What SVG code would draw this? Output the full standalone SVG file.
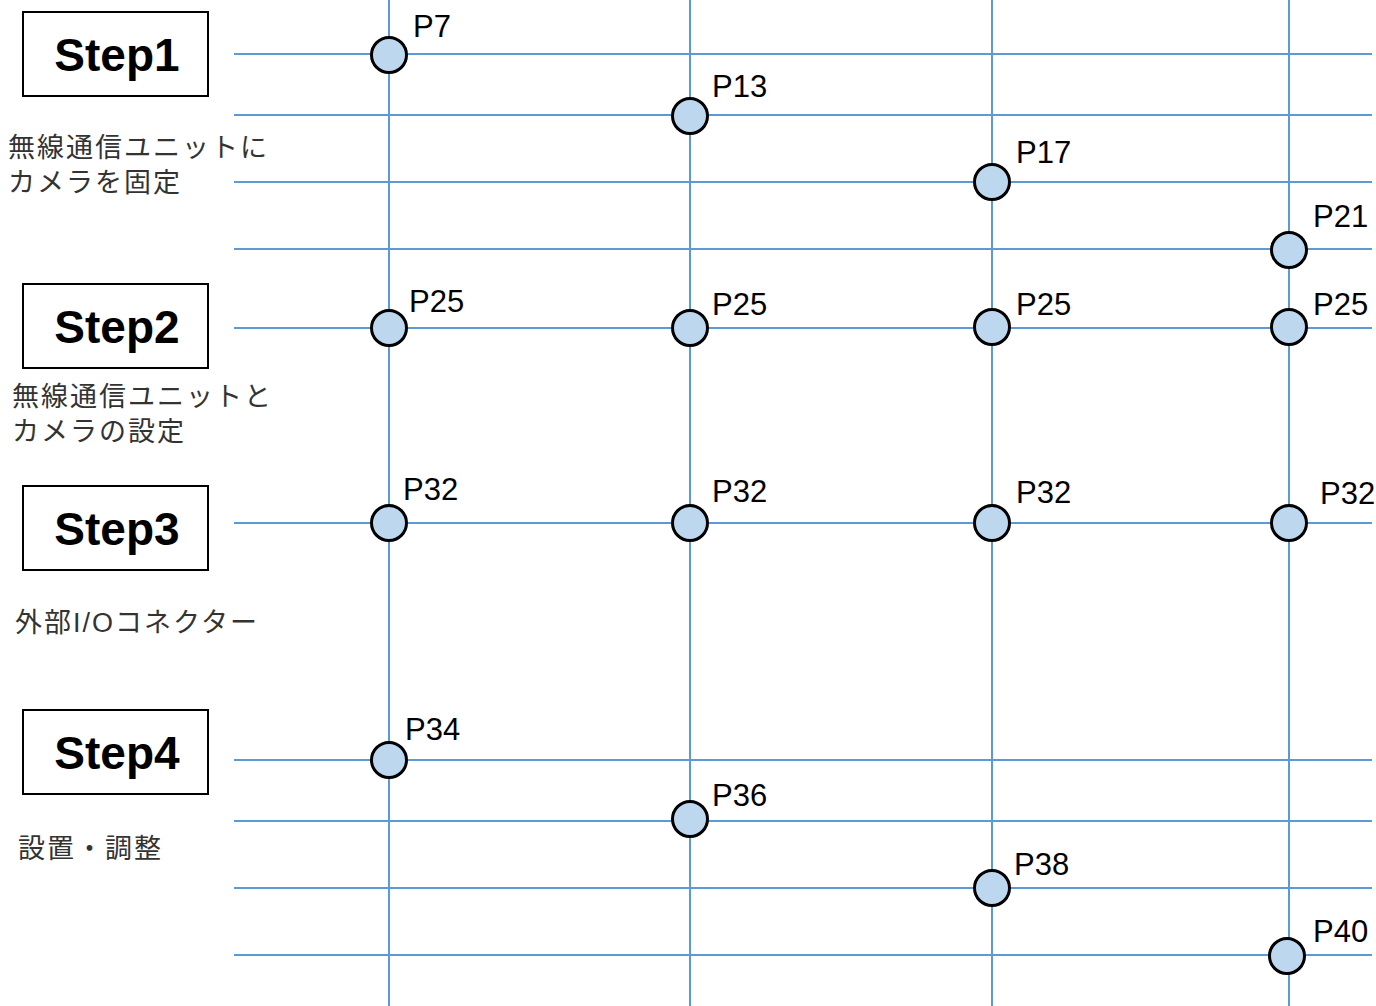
<svg xmlns="http://www.w3.org/2000/svg" width="1376" height="1006" viewBox="0 0 1376 1006">
<style>
.grid line{stroke:#5B9BD5;stroke-width:2}
.pt{fill:#BDD7EE;stroke:#000;stroke-width:3}
.pl{font-family:"Liberation Sans",Arial,sans-serif;font-size:31px;fill:#000}
.box{fill:#fff;stroke:#000;stroke-width:2}
.st{font-family:"Liberation Sans",Arial,sans-serif;font-size:46px;font-weight:bold;fill:#000;text-anchor:middle}
.jp{font-family:"Liberation Sans","Noto Sans CJK JP",sans-serif;font-size:27px;fill:#333;letter-spacing:2px}
</style>
<rect width="1376" height="1006" fill="#fff"/>
<g id="connectors" class="grid">
<line x1="389" y1="0" x2="389" y2="1006"/>
<line x1="690" y1="0" x2="690" y2="1006"/>
<line x1="992" y1="0" x2="992" y2="1006"/>
<line x1="1289" y1="0" x2="1289" y2="1006"/>
<line x1="234" y1="54" x2="1372" y2="54"/>
<line x1="234" y1="115" x2="1372" y2="115"/>
<line x1="234" y1="182" x2="1372" y2="182"/>
<line x1="234" y1="249" x2="1372" y2="249"/>
<line x1="234" y1="328" x2="1372" y2="328"/>
<line x1="234" y1="523" x2="1372" y2="523"/>
<line x1="234" y1="760" x2="1372" y2="760"/>
<line x1="234" y1="821" x2="1372" y2="821"/>
<line x1="234" y1="888" x2="1372" y2="888"/>
<line x1="234" y1="955" x2="1372" y2="955"/>
</g>
<g id="step1"><rect class="box" x="23" y="12" width="185" height="84"/><text class="st" x="117" y="71">Step1</text></g>
<g id="step2"><rect class="box" x="23" y="284" width="185" height="84"/><text class="st" x="117" y="343">Step2</text></g>
<g id="step3"><rect class="box" x="23" y="486" width="185" height="84"/><text class="st" x="117" y="545">Step3</text></g>
<g id="step4"><rect class="box" x="23" y="710" width="185" height="84"/><text class="st" x="117" y="769">Step4</text></g>
<g id="desc1"><text class="jp" x="8" y="157">無線通信ユニットに</text><text class="jp" x="8" y="192">カメラを固定</text></g>
<g id="desc2"><text class="jp" x="12" y="406">無線通信ユニットと</text><text class="jp" x="12" y="441">カメラの設定</text></g>
<g id="desc3"><text class="jp" x="15" y="632">外部I/Oコネクター</text></g>
<g id="desc4"><text class="jp" x="18" y="858">設置・調整</text></g>
<g id="p7"><circle class="pt" cx="389" cy="55" r="17.5"/><text class="pl" x="413" y="37">P7</text></g>
<g id="p13"><circle class="pt" cx="690" cy="116" r="17.5"/><text class="pl" x="712" y="97">P13</text></g>
<g id="p17"><circle class="pt" cx="992" cy="182" r="17.5"/><text class="pl" x="1016" y="163">P17</text></g>
<g id="p21"><circle class="pt" cx="1289" cy="250" r="17.5"/><text class="pl" x="1313" y="227">P21</text></g>
<g id="p25a"><circle class="pt" cx="389" cy="328" r="17.5"/><text class="pl" x="409" y="312">P25</text></g>
<g id="p25b"><circle class="pt" cx="690" cy="328" r="17.5"/><text class="pl" x="712" y="315">P25</text></g>
<g id="p25c"><circle class="pt" cx="992" cy="327" r="17.5"/><text class="pl" x="1016" y="315">P25</text></g>
<g id="p25d"><circle class="pt" cx="1289" cy="327" r="17.5"/><text class="pl" x="1313" y="315">P25</text></g>
<g id="p32a"><circle class="pt" cx="389" cy="523" r="17.5"/><text class="pl" x="403" y="500">P32</text></g>
<g id="p32b"><circle class="pt" cx="690" cy="523" r="17.5"/><text class="pl" x="712" y="502">P32</text></g>
<g id="p32c"><circle class="pt" cx="992" cy="523" r="17.5"/><text class="pl" x="1016" y="503">P32</text></g>
<g id="p32d"><circle class="pt" cx="1289" cy="523" r="17.5"/><text class="pl" x="1320" y="504">P32</text></g>
<g id="p34"><circle class="pt" cx="389" cy="760" r="17.5"/><text class="pl" x="405" y="740">P34</text></g>
<g id="p36"><circle class="pt" cx="690" cy="819" r="17.5"/><text class="pl" x="712" y="806">P36</text></g>
<g id="p38"><circle class="pt" cx="992" cy="888" r="17.5"/><text class="pl" x="1014" y="875">P38</text></g>
<g id="p40"><circle class="pt" cx="1287" cy="956" r="17.5"/><text class="pl" x="1313" y="942">P40</text></g>
</svg>
